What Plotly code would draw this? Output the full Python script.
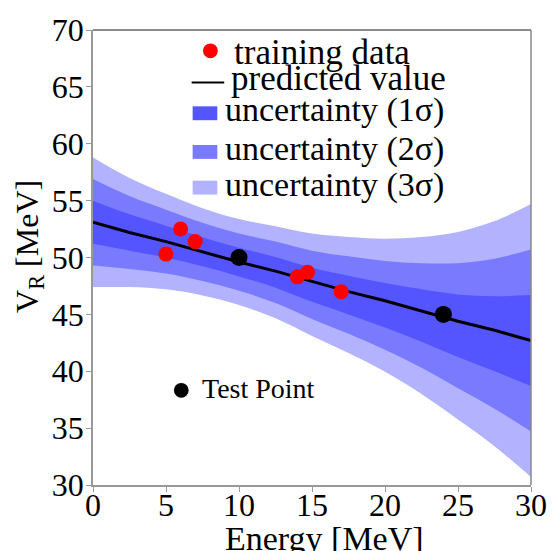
import plotly.graph_objects as go

# ---- data ----
train_x = [5.0, 6.0, 7.0, 14.0, 14.7, 17.0]
train_y = [50.3, 52.5, 51.4, 48.3, 48.7, 47.0]
test_x = [10.0, 24.0]
test_y = [50.0, 45.0]
grid_x = [0, 2.5, 5, 7.5, 10, 12.5, 15, 17.5, 20, 22.5, 25, 27.5, 30]
pred_y = [53.1, 52.2, 51.4, 50.5, 49.6, 48.8, 47.9, 47.0, 46.2, 45.3, 44.4, 43.6, 42.7]
band_mid = [53.1, 52.2, 51.4, 50.5, 49.6, 48.7, 47.6, 46.7, 45.8, 44.9, 44.0, 43.3, 42.7]
sigma = [1.9, 1.6, 1.4, 1.28, 1.26, 1.35, 1.5, 1.7, 1.95, 2.3, 2.75, 3.3, 4.0]
x_ticks = [0, 5, 10, 15, 20, 25, 30]
y_ticks = [30, 35, 40, 45, 50, 55, 60, 65, 70]
band_labels = ["uncertainty (1σ)", "uncertainty (2σ)", "uncertainty (3σ)"]
band_colors = ["rgb(85,85,255)", "rgb(122,122,255)", "rgb(178,178,255)"]

FONT = "Times New Roman"
W, H = 559, 551
L, R, T, B = 93, 22, 26, 66
PW, PH = W - L - R, H - T - B


def px(x):
    return (x - L) / PW


def py(y):
    return (H - B - y) / PH


fig = go.Figure()

# bands, widest first (lower edge, then upper edge filled down to it)
for k in [3, 2, 1]:
    up = [m + k * s for m, s in zip(band_mid, sigma)]
    lo = [m - k * s for m, s in zip(band_mid, sigma)]
    fig.add_trace(go.Scatter(x=grid_x, y=lo, mode="lines",
                             line=dict(width=0, shape="spline", color=band_colors[k - 1]),
                             hoverinfo="skip", showlegend=False))
    fig.add_trace(go.Scatter(x=grid_x, y=up, mode="lines", fill="tonexty",
                             fillcolor=band_colors[k - 1],
                             line=dict(width=0, shape="spline", color=band_colors[k - 1]),
                             hoverinfo="skip", showlegend=False))

fig.add_trace(go.Scatter(x=grid_x, y=pred_y, mode="lines",
                         line=dict(color="black", width=3), showlegend=False))
fig.add_trace(go.Scatter(x=train_x, y=train_y, mode="markers",
                         marker=dict(color="red", size=15), showlegend=False))
fig.add_trace(go.Scatter(x=test_x, y=test_y, mode="markers",
                         marker=dict(color="black", size=17), showlegend=False))

shapes = []
annotations = []

# manual legend
shapes.append(dict(type="circle", xref="paper", yref="paper",
                   x0=px(204.5), x1=px(219.5), y0=py(54.5), y1=py(39.5),
                   fillcolor="red", line=dict(width=0)))
annotations.append(dict(text="training data", x=px(234), y=py(49), xref="paper", yref="paper",
                        xanchor="left", yanchor="middle", showarrow=False,
                        font=dict(family=FONT, size=35)))
shapes.append(dict(type="line", xref="paper", yref="paper",
                   x0=px(193), x1=px(226), y0=py(79), y1=py(79),
                   line=dict(color="black", width=2)))
annotations.append(dict(text="predicted value", x=px(231), y=py(75), xref="paper", yref="paper",
                        xanchor="left", yanchor="middle", showarrow=False,
                        font=dict(family=FONT, size=35)))
patch_y = [110, 149, 185]
for lab, col, yc in zip(band_labels, band_colors, patch_y):
    shapes.append(dict(type="rect", xref="paper", yref="paper",
                       x0=px(194), x1=px(219), y0=py(yc + 7), y1=py(yc - 7),
                       fillcolor=col, line=dict(width=0)))
    annotations.append(dict(text=lab, x=px(225), y=py(yc - 3), xref="paper", yref="paper",
                            xanchor="left", yanchor="middle", showarrow=False,
                            font=dict(family=FONT, size=34)))

# test point key
shapes.append(dict(type="circle", xref="paper", yref="paper",
                   x0=px(175), x1=px(190), y0=py(397), y1=py(382),
                   fillcolor="black", line=dict(width=0)))
annotations.append(dict(text="Test Point", x=px(201), y=py(388), xref="paper", yref="paper",
                        xanchor="left", yanchor="middle", showarrow=False,
                        font=dict(family=FONT, size=28)))

# axis titles
annotations.append(dict(text="Energy [MeV]", x=px(328), y=py(518), xref="paper", yref="paper",
                        xanchor="center", yanchor="top", showarrow=False,
                        font=dict(family=FONT, size=34)))
annotations.append(dict(text="V<sub>R</sub> [MeV]", x=px(28), y=py(244), xref="paper", yref="paper",
                        xanchor="center", yanchor="middle", showarrow=False, textangle=-90,
                        font=dict(family=FONT, size=32)))

# top/right frame
shapes.append(dict(type="line", xref="paper", yref="paper", x0=0, x1=1, y0=1, y1=1,
                   line=dict(color="#666", width=1.5)))
shapes.append(dict(type="line", xref="paper", yref="paper", x0=1, x1=1, y0=0, y1=1,
                   line=dict(color="#888", width=1.5)))

fig.update_layout(
    width=W, height=H,
    margin=dict(l=L, r=R, t=T, b=B),
    paper_bgcolor="white", plot_bgcolor="white",
    showlegend=False,
    shapes=shapes, annotations=annotations,
    font=dict(color="black"),
    xaxis=dict(range=[0, 30], tickvals=x_ticks, ticks="outside", ticklen=5,
               tickcolor="#999", showline=True, linecolor="#999", linewidth=1.5,
               showgrid=False, zeroline=False, ticklabelstandoff=-14,
               tickfont=dict(family=FONT, size=32)),
    yaxis=dict(range=[30, 70], tickvals=y_ticks, ticks="outside", ticklen=5,
               tickcolor="#999", showline=True, linecolor="#999", linewidth=1.5,
               showgrid=False, zeroline=False, ticklabelstandoff=-4,
               tickfont=dict(family=FONT, size=32)),
)

fig.write_html("out.html")
